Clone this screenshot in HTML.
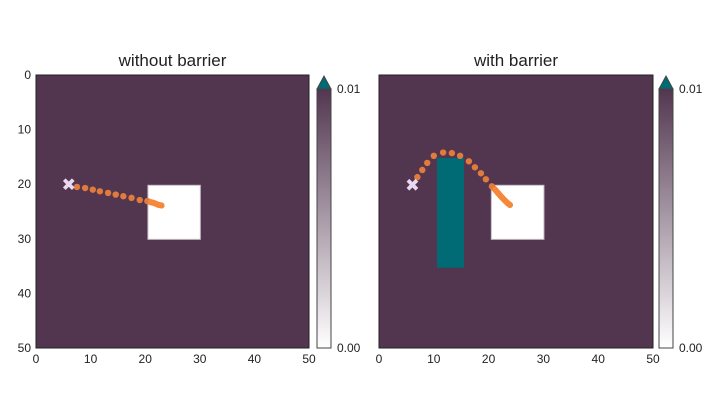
<!DOCTYPE html>
<html><head><meta charset="utf-8"><style>
html,body{margin:0;padding:0;background:#fff;}
svg{display:block;font-family:"Liberation Sans",Arial,sans-serif;}
</style></head><body>
<svg id="chart" width="720" height="419" viewBox="0 0 720 419">
<defs>
<linearGradient id="cbg" x1="0" y1="1" x2="0" y2="0">
<stop offset="0" stop-color="#ffffff"/><stop offset="1" stop-color="#523650"/>
</linearGradient>
</defs>
</svg>
<script>
const ticks = [0,10,20,30,40,50];
const cbTicks = ["0.00","0.01"];
const titles = ["without barrier","with barrier"];
const startX = [6.0, 6.1];
const startY = [20.0, 20.1];
const pathX1 = [7.5,9.0,10.4,11.7,13.2,14.6,16.0,17.5,19.0,20.4,21.0,21.5,22.0,22.5,23.0];
const pathY1 = [20.5,20.7,21.0,21.3,21.6,21.9,22.2,22.5,22.9,23.1,23.3,23.4,23.6,23.8,23.9];
const pathX2 = [7.0,7.9,8.8,10.0,11.7,13.3,14.8,16.4,17.5,18.6,19.5,20.6,21.2,21.8,22.4,23.0,23.5,23.9];
const pathY2 = [18.7,17.4,16.1,14.8,14.2,14.3,14.8,15.8,16.9,18.0,19.1,20.4,21.0,21.7,22.4,23.0,23.5,23.8];
const squareX = [20.5, 30.1];
const squareY = [20.2, 30.1];
const barrierX = [10.6, 15.5];
const barrierY = [15.2, 35.3];

const NS="http://www.w3.org/2000/svg";
const svg=document.getElementById('chart');
function mk(tag,attrs,parent){const e=document.createElementNS(NS,tag);for(const k in attrs)e.setAttribute(k,attrs[k]);(parent||svg).appendChild(e);return e;}
const panels=[{x0:36,x1:309,cb:317,tx:"without-barrier"},{x0:379,x1:653,cb:659,tx:"with-barrier"}];
const Y0=75,Y1=348;
panels.forEach((p,i)=>{
  const sx=v=>p.x0+v/50*(p.x1-p.x0);
  const sy=v=>Y0+v/50*(Y1-Y0);
  const g=mk('g',{});
  
  
  const t=mk('text',{x:(p.x0+p.x1)/2,y:66,'text-anchor':'middle','font-size':'17',fill:'#222'},g);
  t.textContent=titles[i];
  
  
  const bg=mk('rect',{x:p.x0,y:Y0,width:p.x1-p.x0,height:Y1-Y0,fill:'#523650'},g);
  
  
  const sq=mk('rect',{x:sx(squareX[0]),y:sy(squareY[0]),width:sx(squareX[1])-sx(squareX[0]),height:sy(squareY[1])-sy(squareY[0]),fill:'#fff',stroke:'#c8bcc6','stroke-width':1},g);
  
  
  if(i===1){
    const b=mk('rect',{x:sx(barrierX[0]),y:sy(barrierY[0]),width:sx(barrierX[1])-sx(barrierX[0]),height:sy(barrierY[1])-sy(barrierY[0]),fill:'#006b74'},g);
    
    
  }
  const px=i===0?pathX1:pathX2, py=i===0?pathY1:pathY2;
  const nDots=i===0?10:12;
  const tail=[];for(let k=nDots-1;k<px.length;k++)tail.push(sx(px[k])+','+sy(py[k]));
  const pl=mk('polyline',{points:tail.join(' '),fill:'none',stroke:'#f5883a','stroke-width':6,'stroke-linecap':'round'},g);
  
  
  px.forEach((v,k)=>{
    const c=mk('circle',{cx:sx(v),cy:sy(py[k]),r:k<nDots?3.2:3,fill:k<nDots?'#e07b3d':'#f5883a'},g);
    
    
  });
  const cx=sx(startX[i]),cy=sy(startY[i]);
  const m=mk('path',{d:`M${cx-4.5},${cy-4.5}L${cx+4.5},${cy+4.5}M${cx+4.5},${cy-4.5}L${cx-4.5},${cy+4.5}`,stroke:'#ead8f0','stroke-width':3.8,'stroke-linecap':'butt'},g);
  
  
  const fr=mk('rect',{x:p.x0,y:Y0,width:p.x1-p.x0,height:Y1-Y0,fill:'none',stroke:'#222','stroke-width':1},g);
  
  
  ticks.forEach(v=>{
    const tx=mk('text',{x:sx(v),y:363,'text-anchor':'middle','font-size':'12',fill:'#222'},g);
    tx.textContent=v;
    
    
    if(i===0){
      const ty=mk('text',{x:31,y:sy(v)+4,'text-anchor':'end','font-size':'12',fill:'#222'},g);
      ty.textContent=v;
      
      
    }
  });
  const cw=14,cbTop=89;
  const cb=mk('rect',{x:p.cb,y:cbTop,width:cw,height:Y1-cbTop,fill:'url(#cbg)',stroke:'#444','stroke-width':1},g);
  
  
  const tri=mk('path',{d:`M${p.cb},${cbTop}L${p.cb+cw/2},76L${p.cb+cw},${cbTop}Z`,fill:'#006b74',stroke:'#444','stroke-width':1},g);
  
  
  [[Y1,cbTicks[0]],[cbTop,cbTicks[1]]].forEach(([yy,s])=>{
    const l=mk('text',{x:p.cb+cw+6,y:yy+4,'font-size':'12',fill:'#222'},g);
    l.textContent=s;
    
    
  });
});
</script>
</body></html>
